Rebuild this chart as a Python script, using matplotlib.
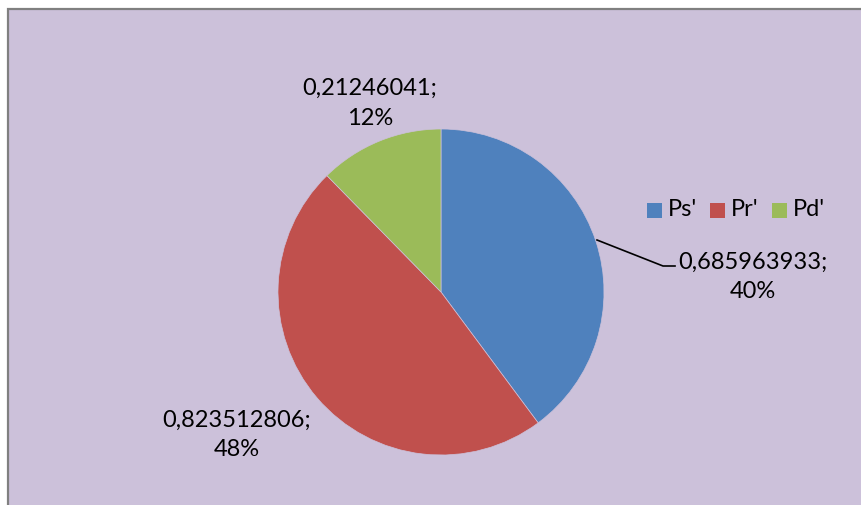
import matplotlib
matplotlib.use("Agg")
import matplotlib.pyplot as plt
from matplotlib.patches import Rectangle

categories = ["Ps'", "Pr'", "Pd'"]
values = [0.685963933, 0.823512806, 0.21246041]
value_labels = ["0,685963933;", "0,823512806;", "0,21246041;"]
pct_labels = ["40%", "48%", "12%"]
colors = ["#4F81BD", "#C0504D", "#9BBB59"]

W, H = 862, 505
fig = plt.figure(figsize=(W / 100, H / 100), dpi=100)
fig.patch.set_facecolor("white")
ax = fig.add_axes([0, 0, 1, 1])

def py(y):
    return H - y

font = ["Lato", "DejaVu Sans"]
fs = 17

ax.pie(values, colors=colors, startangle=90, counterclock=False,
       center=(441, py(292)), radius=163, frame=True,
       wedgeprops=dict(linewidth=0.5, edgecolor="#CCC1DA"))
ax.set_xlim(0, W)
ax.set_ylim(0, H)
ax.set_aspect("equal")
ax.axis("off")

# chart area background with border
ax.add_patch(Rectangle((8.5, py(H + 10)), W + 10, (H + 10) - 8.5,
                       facecolor="#CCC1DA", edgecolor="#808080", lw=1.6, zorder=0))

label_pos = [(753, 262, 292), (237, 420, 450), (370, 88, 118)]
for (x, y1, y2), vl, pl in zip(label_pos, value_labels, pct_labels):
    ax.text(x, py(y1), vl, ha="center", va="center", fontsize=fs, family=font, color="black")
    ax.text(x, py(y2), pl, ha="center", va="center", fontsize=fs, family=font, color="black")

# leader line for Ps'
ax.plot([597, 663, 675], [py(240), py(266), py(266)], color="black", lw=1.2)

# legend
leg_x = [647, 710, 772]
for lx, c, lab in zip(leg_x, colors, categories):
    ax.add_patch(Rectangle((lx, py(218)), 15, 15, facecolor=c, edgecolor="none"))
    ax.text(lx + 21, py(210), lab, ha="left", va="center", fontsize=fs, family=font, color="black")

fig.savefig("out.png", dpi=100)
